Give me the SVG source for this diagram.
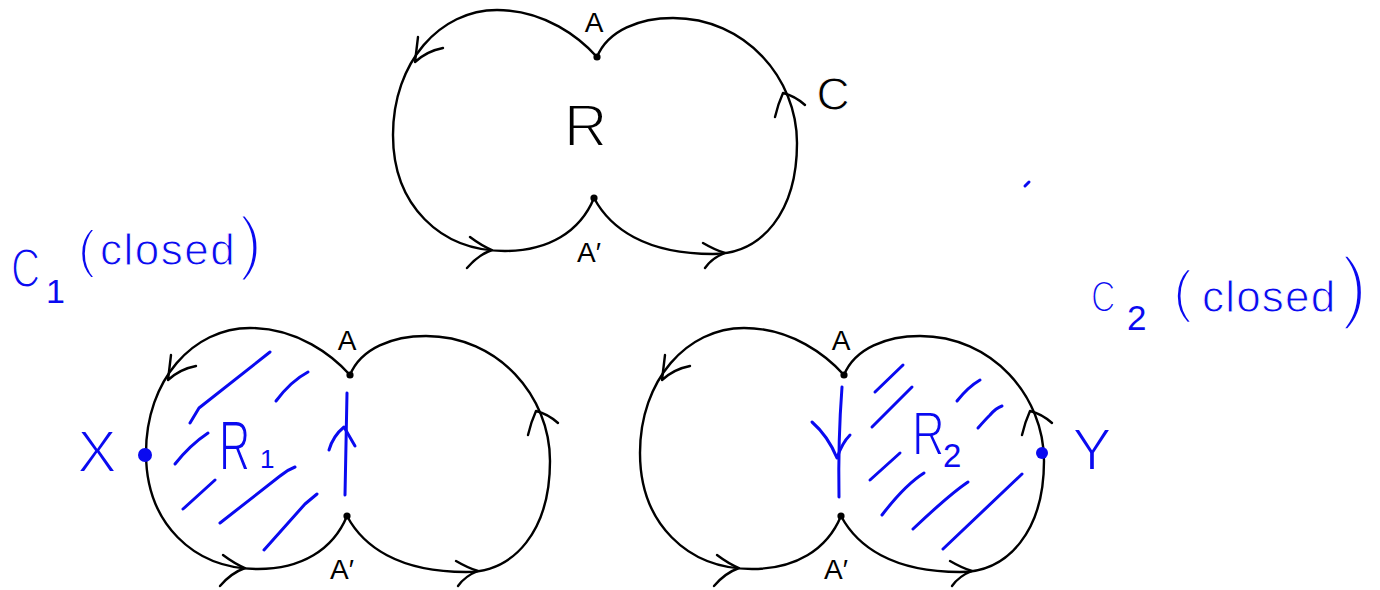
<svg xmlns="http://www.w3.org/2000/svg" width="1380" height="590" viewBox="0 0 1380 590">
<style>
.curve{fill:none;stroke:#000;stroke-width:2.4;stroke-linecap:round;stroke-linejoin:round}
.blue{fill:none;stroke:#0a0af0;stroke-width:3;stroke-linecap:round;stroke-linejoin:round}
.dot{fill:#000}
.bdot{fill:#0a0af0}
text{font-family:"Liberation Sans",Arial,sans-serif}
.k{fill:#000}
.b{fill:#0a0af0}
.thin{stroke:#fff;stroke-width:1}
.thin2{stroke:#fff;stroke-width:1.8}
</style>
<defs>
<path id="outline" d="M597,57 C580,38 545,10 497,10 C440,10 393,62 393,135 C393,205 440,251 505,251 C548,251 580,232 594,198 C610,228 645,254 713,254 C762,254 797,212 797,143 C797,78 745,18 673,18 C640,18 608,30 597,57 Z"/>
</defs>

<g id="region-R">
<use href="#outline" class="curve"/>
<path class="curve" d="M418,37 L415,62 Q427,51 443,48"/>
<path class="curve" d="M470,237 Q482,246 492,250 Q478,255 467,268"/>
<path class="curve" d="M703,243 Q715,250 725,253 Q712,258 705,268"/>
<path class="curve" d="M775,117 Q778,104 783,93 Q795,96 805,105"/>
<circle class="dot" cx="597" cy="57" r="3.6"/>
<circle class="dot" cx="594" cy="198" r="3.6"/>
<text class="k" x="594" y="32" font-size="28" text-anchor="middle">A</text>
<text class="k" x="577" y="262" font-size="28">A′</text>
<text class="k thin2" x="564" y="146" font-size="60">R</text>
<text class="k thin" x="833" y="110" font-size="46" text-anchor="middle">C</text>
</g>

<g id="region-R1">
<g transform="translate(-247,318)">
<use href="#outline" class="curve"/>
<path class="curve" d="M418,37 L415,62 Q427,51 443,48"/>
<path class="curve" d="M470,237 Q482,246 492,250 Q478,255 467,268"/>
<path class="curve" d="M703,243 Q715,250 725,253 Q712,258 705,268"/>
<path class="curve" d="M775,117 Q778,104 783,93 Q795,96 805,105"/>
<circle class="dot" cx="597" cy="57" r="3.6"/>
<circle class="dot" cx="594" cy="198" r="3.6"/>
</g>
<text class="k" x="347" y="350" font-size="28" text-anchor="middle">A</text>
<text class="k" x="330" y="579" font-size="28">A′</text>
<g class="blue">
<path d="M270,352 L199,408 L190,423"/>
<path d="M308,372 Q291,381 276,401"/>
<path d="M208,433 Q190,445 175,464"/>
<path d="M295,467 Q287,470 280,476 L220,523"/>
<path d="M215,480 L183,509"/>
<path d="M317,494 L305,504 L264,550"/>
</g>
<circle class="bdot" cx="145" cy="455" r="7"/>
<text class="b thin2" x="97" y="472" font-size="60" text-anchor="middle">X</text>
<text class="b thin2" transform="translate(219,470) scale(0.62,1)" font-size="70">R</text>
<text class="b" x="260" y="468" font-size="26">1</text>
</g>

<g id="region-R2">
<g transform="translate(247,318)">
<use href="#outline" class="curve"/>
<path class="curve" d="M418,37 L415,62 Q427,51 443,48"/>
<path class="curve" d="M470,237 Q482,246 492,250 Q478,255 467,268"/>
<path class="curve" d="M703,243 Q715,250 725,253 Q712,258 705,268"/>
<path class="curve" d="M775,117 Q778,104 783,93 Q795,96 805,105"/>
<circle class="dot" cx="597" cy="57" r="3.6"/>
<circle class="dot" cx="594" cy="198" r="3.6"/>
</g>
<text class="k" x="841" y="350" font-size="28" text-anchor="middle">A</text>
<text class="k" x="824" y="579" font-size="28">A′</text>
<g class="blue">
<path d="M903,365 L875,392"/>
<path d="M912,387 L872,427"/>
<path d="M980,380 Q968,387 957,401"/>
<path d="M1002,406 Q996,408 990,415 Q985,420 978,428"/>
<path d="M900,453 L870,480"/>
<path d="M924,473 Q905,485 882,515"/>
<path d="M968,482 Q950,494 913,529"/>
<path d="M1022,474 L943,549"/>
</g>
<circle class="bdot" cx="1042" cy="453" r="6"/>
<text class="b thin2" x="1092" y="470" font-size="60" text-anchor="middle">Y</text>
<text class="b thin2" transform="translate(912,455) scale(0.72,1)" font-size="63">R</text>
<text class="b" x="943" y="467" font-size="33">2</text>
</g>

<g id="connectors">
<g class="blue">
<path d="M347,393 L345,495"/>
<path d="M329,450 Q333,436 344,427 L355,446"/>
<path d="M842,387 Q838,440 839,497"/>
<path d="M812,422 Q828,436 837,458 Q842,443 850,435"/>
</g>
</g>

<g id="label-C1">
<text class="b thin2" transform="translate(11,287) scale(0.72,1)" font-size="56">C</text>
<text class="b" x="46" y="303" font-size="34">1</text>
<text class="b thin"><tspan x="78" y="267" font-size="52" stroke-width="2">(</tspan><tspan x="100" y="265" font-size="44" letter-spacing="1.5">closed</tspan><tspan x="239" y="266" font-size="70" stroke-width="3">)</tspan></text>
</g>

<g id="label-C2">
<text class="b thin2" transform="translate(1091,312) scale(0.75,1)" font-size="45">C</text>
<text class="b" x="1127" y="330" font-size="35">2</text>
<text class="b thin"><tspan x="1173" y="311" font-size="58" stroke-width="2.4">(</tspan><tspan x="1202" y="312" font-size="44" letter-spacing="1.2">closed</tspan><tspan x="1341" y="313" font-size="80" stroke-width="3.6">)</tspan></text>
</g>

<path class="blue" d="M1025,186 L1029,182" stroke-width="2.5"/>
</svg>
